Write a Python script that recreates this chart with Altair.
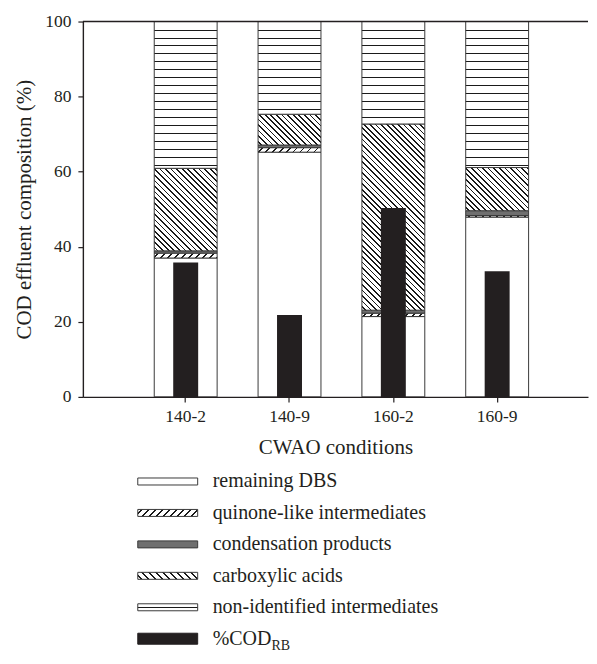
import math
import altair as alt
import pandas as pd

# ---------------- data ----------------
conditions = ["140-2", "140-9", "160-2", "160-9"]
remaining_dbs = [37.0, 65.2, 21.4, 47.9]
quinone_like = [1.3, 1.2, 0.9, 0.4]
condensation = [0.6, 0.7, 0.8, 1.3]
carboxylic = [22.0, 8.2, 49.6, 11.5]
non_identified = [39.1, 24.7, 27.3, 38.9]
cod_rb = [35.8, 21.8, 50.3, 33.5]

components = ["remaining DBS", "quinone-like intermediates", "condensation products",
              "carboxylic acids", "non-identified intermediates"]
legend_labels = components + ["%COD"]
legend_sub = ["", "", "", "", "", "RB"]
y_ticks = [0, 20, 40, 60, 80, 100]

# ---------------- styling ----------------
FONT = "Liberation Serif"
INK = "#231f20"
EDGE = "#3a3a3a"
W, H = 506, 376
STEP, BAND = 104.0, 63.0
N = len(conditions)
p_inner = 1 - BAND / STEP
outer_total = W - STEP * (N - p_inner)
p_outer = outer_total / 2 / STEP
x_align = 71.5 / outer_total


def _stops(L, period, lw, first, fg="#1a1a1a", bg="white"):
    stops = [{"offset": 0, "color": bg}]
    d = first
    last = 0.0
    while d < L - 0.5:
        a = round(max(d / L, last), 5)
        b = round(min((d + lw) / L, 1.0), 5)
        stops += [{"offset": a, "color": bg}, {"offset": a, "color": fg},
                  {"offset": b, "color": fg}, {"offset": b, "color": bg}]
        last = b
        d += period
    stops.append({"offset": 1, "color": bg})
    return stops


def hatch(kind, w, h, period, lw):
    if kind == "horizontal":
        return {"gradient": "linear", "x1": 0, "y1": 0, "x2": 0, "y2": 1,
                "stops": _stops(h, period, lw, period)}
    r = h / w
    lam = (1 + r) / (1 + r * r)
    L = (w + h) / math.sqrt(2)
    per = period / math.sqrt(2)
    if kind == "back":   # lines like "\"
        g = {"x1": 0, "y1": 1, "x2": round(lam, 5), "y2": round(1 - lam * r, 5)}
    else:                # lines like "/"
        g = {"x1": 0, "y1": 0, "x2": round(lam, 5), "y2": round(lam * r, 5)}
    g["gradient"] = "linear"
    g["stops"] = _stops(L, per, lw, per / 2)
    return g


def fill_for(comp, w, h, legend=False):
    if comp == "remaining DBS":
        return "white"
    if comp == "quinone-like intermediates":
        return hatch("fwd", w, h, 7.0, 1.1 if legend else 1.3)
    if comp == "condensation products":
        return "#6f6f6f"
    if comp == "carboxylic acids":
        return hatch("back", w, h, 7.0 if legend else 5.6, 1.2)
    if comp == "non-identified intermediates":
        return hatch("horizontal", w, h, 3.5 if legend else 8.0, 1.0)
    return INK


# ---------------- tables ----------------
rows = []
for i, c in enumerate(conditions):
    base = 0.0
    for comp, vals in zip(components, [remaining_dbs, quinone_like, condensation,
                                       carboxylic, non_identified]):
        v = vals[i]
        rows.append({"condition": c, "component": comp, "start": base,
                     "end": base + v, "value": v})
        base += v
seg = pd.DataFrame(rows)
cod = pd.DataFrame({"condition": conditions, "cod": cod_rb})
top = pd.DataFrame({"top": [100]})

xscale = alt.Scale(domain=conditions, paddingInner=p_inner, paddingOuter=p_outer, align=x_align)
yscale = alt.Scale(domain=[0, 100], nice=False)

xaxis = alt.Axis(title="CWAO conditions", labelAngle=0, domainColor=INK, domainWidth=1.4,
                 tickColor=INK, tickSize=5, tickWidth=1.2, labelFont=FONT, labelFontSize=17.5,
                 labelColor=INK, labelPadding=6, titleFont=FONT, titleFontSize=21,
                 titleFontWeight="normal", titleColor=INK, titlePadding=11, zindex=1)
yaxis = alt.Axis(title="COD effluent composition (%)", values=y_ticks, grid=False,
                 domainColor=INK, domainWidth=1.4, tickColor=INK, tickSize=5, tickWidth=1.2,
                 labelFont=FONT, labelFontSize=17.5, labelColor=INK, labelPadding=7,
                 titleFont=FONT, titleFontSize=21, titleFontWeight="normal", titleColor=INK,
                 titlePadding=10, zindex=1)

X = alt.X("condition:N", scale=xscale, axis=xaxis)

layers = []
for r in rows:
    h_px = r["value"] * H / 100.0
    f = fill_for(r["component"], BAND, h_px)
    layers.append(
        alt.Chart(seg)
        .transform_filter((alt.datum.condition == r["condition"]) &
                          (alt.datum.component == r["component"]))
        .mark_bar(fill=f, stroke=EDGE, strokeWidth=1)
        .encode(x=X, y=alt.Y("end:Q", scale=yscale, axis=yaxis), y2="start:Q")
    )

layers.append(
    alt.Chart(cod).mark_bar(width=25, fill=INK)
    .encode(x=X, y=alt.Y("cod:Q", scale=yscale, axis=yaxis))
)
layers.append(
    alt.Chart(top).mark_rule(color=INK, strokeWidth=1.5)
    .encode(y=alt.Y("top:Q", scale=yscale, axis=yaxis))
)

main = alt.layer(*layers).properties(width=W, height=H)

# ---------------- legend panel ----------------
leg = pd.DataFrame({"label": legend_labels, "sub": legend_sub})
LY = alt.Y("label:N", scale=alt.Scale(domain=legend_labels, paddingInner=0, paddingOuter=0),
           axis=None)
SX, SW, TX = 55, 60, 130
leg_layers = []
for lab in legend_labels:
    sh = 11 if lab == "%COD" else 7
    f = fill_for(lab, SW, sh, legend=True)
    leg_layers.append(
        alt.Chart(leg).transform_filter(alt.datum.label == lab)
        .mark_bar(height=sh, fill=f, stroke=EDGE if lab != "%COD" else INK, strokeWidth=1)
        .encode(x=alt.value(SX), x2=alt.value(SX + SW), y=LY)
    )
leg_layers.append(
    alt.Chart(leg).mark_text(align="left", baseline="middle", font=FONT, fontSize=20, color=INK)
    .encode(x=alt.value(TX), y=LY, text="label:N")
)
leg_layers.append(
    alt.Chart(leg).transform_filter(alt.datum.sub != "")
    .mark_text(align="left", baseline="middle", font=FONT, fontSize=14, color=INK, dx=59, dy=7)
    .encode(x=alt.value(TX), y=LY, text="sub:N")
)
legend = alt.layer(*leg_layers).properties(width=400, height=189)

chart = (
    alt.vconcat(main, legend, spacing=8)
    .properties(padding={"left": 5, "top": 4, "right": 0, "bottom": 0})
    .configure_view(stroke=None)
)

chart.save("out.html", embed_options={"renderer": "svg", "actions": False})
